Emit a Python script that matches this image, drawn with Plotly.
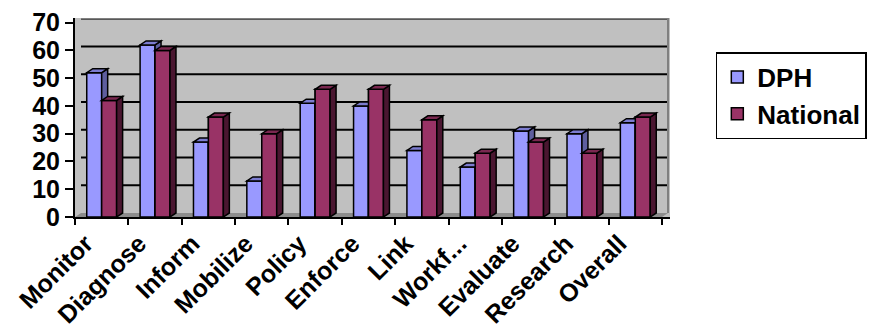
import plotly.graph_objects as go

categories = ["Monitor", "Diagnose", "Inform", "Mobilize", "Policy", "Enforce",
              "Link", "Workf...", "Evaluate", "Research", "Overall"]
dph = [52, 62, 27, 13, 41, 40, 24, 18, 31, 30, 34]
national = [42, 60, 36, 30, 46, 46, 35, 23, 27, 23, 36]
y_ticks = [0, 10, 20, 30, 40, 50, 60, 70]

FONT = "Arial, Liberation Sans, sans-serif"
DPH_FRONT, DPH_SIDE, DPH_TOP = "#9999FF", "#5E5E9E", "#7C7CD0"
NAT_FRONT, NAT_SIDE, NAT_TOP = "#993366", "#4A1630", "#7A2850"

ncat = len(categories)
pos = list(range(ncat))        # category positions on the x axis
bargap = 0.44
bw = (1 - bargap) / 2          # width of one bar in category units
dx = 6 / 53.4                  # 3D depth, horizontal (category units)
dy = 4 / 2.771                 # 3D depth, vertical (value units)
label_shift = 0.3              # label anchor offset (category units)
ymax = max(y_ticks) + 1.7
xmax = ncat - 0.5 + 0.15

fig = go.Figure()
fig.add_trace(go.Bar(x=pos, y=dph, name="<b>DPH</b>", marker_color=DPH_FRONT,
                     marker_line=dict(color="black", width=1.5)))
fig.add_trace(go.Bar(x=pos, y=national, name="<b>National</b>", marker_color=NAT_FRONT,
                     marker_line=dict(color="black", width=1.5)))

shapes = []
# floor
shapes.append(dict(type="path", xref="x", yref="y", layer="below",
                   path=f"M -0.5 0 L {ncat-0.5} 0 L {ncat-0.5+dx} {dy} L {-0.5+dx} {dy} Z",
                   fillcolor="#8C8C8C", line=dict(color="#8C8C8C", width=0)))
# back-wall gridlines
for t in y_ticks[1:]:
    shapes.append(dict(type="line", xref="x", yref="y", layer="below",
                       x0=-0.5 + dx, x1=ncat - 0.5 + dx, y0=t + dy, y1=t + dy,
                       line=dict(color="black", width=2)))
# wall edges
shapes.append(dict(type="line", xref="x", yref="y", layer="below",
                   x0=ncat - 0.5 + dx, x1=ncat - 0.5 + dx, y0=dy, y1=ymax,
                   line=dict(color="#808080", width=2)))
shapes.append(dict(type="line", xref="x", yref="y", layer="below",
                   x0=-0.5 + dx, x1=ncat - 0.5 + dx, y0=ymax - 0.2, y1=ymax - 0.2,
                   line=dict(color="#808080", width=2)))


def faces(xl, v, side, top):
    xr = xl + bw
    return [
        dict(type="path", xref="x", yref="y", layer="above",
             path=f"M {xr} 0 L {xr} {v} L {xr+dx} {v+dy} L {xr+dx} {dy} Z",
             fillcolor=side, line=dict(color="black", width=1.5)),
        dict(type="path", xref="x", yref="y", layer="above",
             path=f"M {xl} {v} L {xr} {v} L {xr+dx} {v+dy} L {xl+dx} {v+dy} Z",
             fillcolor=top, line=dict(color="black", width=1.5)),
    ]


for i, a, b in zip(pos, dph, national):
    xl_d = i - bw
    xl_n = i
    shapes += faces(xl_d, a, DPH_SIDE, DPH_TOP)
    shapes.append(dict(type="rect", xref="x", yref="y", layer="above",
                       x0=xl_n, x1=xl_n + bw, y0=0, y1=b,
                       fillcolor=NAT_FRONT, line=dict(color="black", width=1.5)))
    shapes += faces(xl_n, b, NAT_SIDE, NAT_TOP)

fig.update_layout(
    width=879, height=335,
    margin=dict(l=75, r=879 - 670, t=18, b=335 - 216.7, pad=0, autoexpand=False),
    barmode="group", bargap=bargap, bargroupgap=0,
    plot_bgcolor="#C0C0C0", paper_bgcolor="white",
    shapes=shapes,
    showlegend=True,
    legend=dict(x=1.077, y=0.829, xanchor="left", yanchor="top",
                bordercolor="black", borderwidth=1.5, bgcolor="white",
                font=dict(family=FONT, size=26, color="black"),
                itemwidth=30, tracegroupgap=0),
    font=dict(family=FONT, color="black"),
)
fig.update_xaxes(range=[-0.5, xmax], tickangle=-45, automargin=False,
                 tickmode="array", tickvals=[p - label_shift for p in pos],
                 ticktext=[f"<b>{c}</b>" for c in categories],
                 ticks="", ticklen=6,
                 minor=dict(tickvals=[p - 0.5 for p in pos] + [ncat - 0.5], ticks="outside",
                            ticklen=6, tickcolor="black", tickwidth=1.5, showgrid=False),
                 showline=True, linecolor="black", linewidth=2, showgrid=False, zeroline=False,
                 tickfont=dict(family=FONT, size=25, color="black"))
fig.update_yaxes(range=[0, ymax], tickvals=y_ticks, ticktext=[f"<b>{t}</b>" for t in y_ticks],
                 automargin=False, ticks="outside", ticklen=8,
                 tickcolor="black", tickwidth=1.5,
                 showline=True, linecolor="black", linewidth=2, showgrid=False, zeroline=False,
                 tickfont=dict(family=FONT, size=25, color="black"))

fig.write_html("out.html")
